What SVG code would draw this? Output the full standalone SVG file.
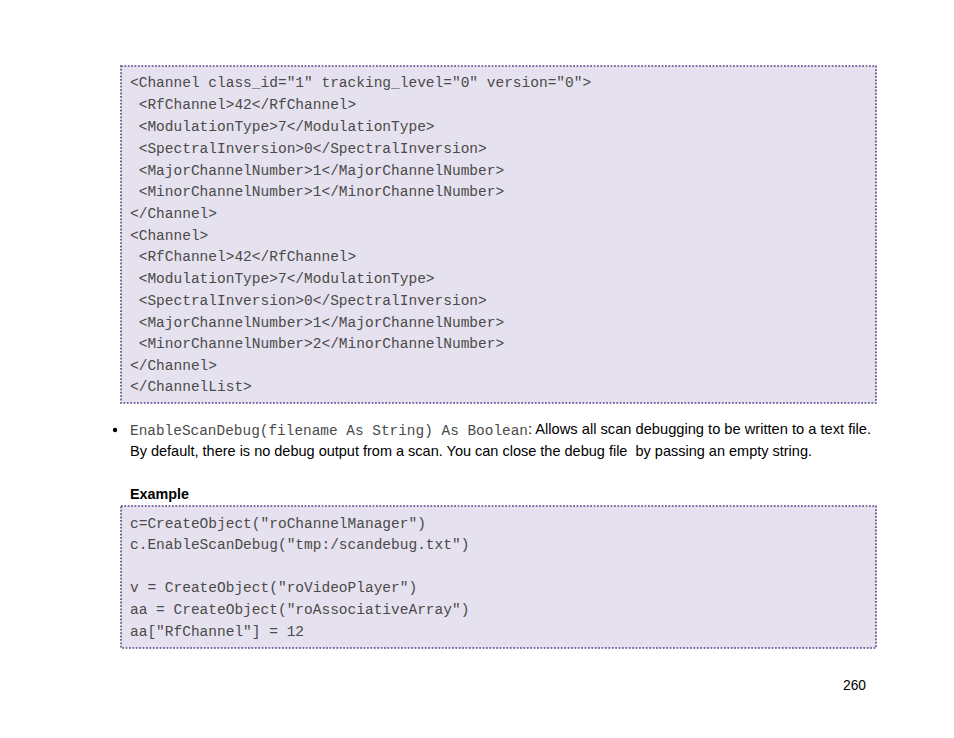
<svg xmlns="http://www.w3.org/2000/svg" width="954" height="738" viewBox="0 0 954 738">
<style>
.box{fill:#e6e1ee;stroke:#5b4187;stroke-width:1.6;stroke-dasharray:1.8 1.6}
.code{font-family:"Liberation Mono","Courier New",monospace;font-size:14.5px;fill:#4a4a4a;white-space:pre}
.body{font-family:"Liberation Sans",Arial,sans-serif;font-size:14.5px;fill:#000;white-space:pre}
.bold{font-family:"Liberation Sans",Arial,sans-serif;font-size:14.5px;font-weight:bold;fill:#000}
</style>
<rect width="954" height="738" fill="#fff"/>
<g id="code-block-1">
<rect class="box" x="121" y="66" width="755" height="337"/>
<text class="code" x="130" y="87">&lt;Channel class_id="1" tracking_level="0" version="0"&gt;</text>
<text class="code" x="130" y="109"> &lt;RfChannel&gt;42&lt;/RfChannel&gt;</text>
<text class="code" x="130" y="131"> &lt;ModulationType&gt;7&lt;/ModulationType&gt;</text>
<text class="code" x="130" y="153"> &lt;SpectralInversion&gt;0&lt;/SpectralInversion&gt;</text>
<text class="code" x="130" y="175"> &lt;MajorChannelNumber&gt;1&lt;/MajorChannelNumber&gt;</text>
<text class="code" x="130" y="196"> &lt;MinorChannelNumber&gt;1&lt;/MinorChannelNumber&gt;</text>
<text class="code" x="130" y="218">&lt;/Channel&gt;</text>
<text class="code" x="130" y="240">&lt;Channel&gt;</text>
<text class="code" x="130" y="261"> &lt;RfChannel&gt;42&lt;/RfChannel&gt;</text>
<text class="code" x="130" y="283"> &lt;ModulationType&gt;7&lt;/ModulationType&gt;</text>
<text class="code" x="130" y="305"> &lt;SpectralInversion&gt;0&lt;/SpectralInversion&gt;</text>
<text class="code" x="130" y="327"> &lt;MajorChannelNumber&gt;1&lt;/MajorChannelNumber&gt;</text>
<text class="code" x="130" y="348"> &lt;MinorChannelNumber&gt;2&lt;/MinorChannelNumber&gt;</text>
<text class="code" x="130" y="370">&lt;/Channel&gt;</text>
<text class="code" x="130" y="391">&lt;/ChannelList&gt;</text>
</g>
<g id="bullet-item">
<circle cx="115" cy="430" r="2.2" fill="#000"/>
<text class="code" x="130" y="435" textLength="398" lengthAdjust="spacingAndGlyphs">EnableScanDebug(filename As String) As Boolean</text>
<text class="body" x="528" y="434" textLength="343" lengthAdjust="spacingAndGlyphs">: Allows all scan debugging to be written to a text file.</text>
<text class="body" x="130" y="456" textLength="682" lengthAdjust="spacingAndGlyphs">By default, there is no debug output from a scan. You can close the debug file  by passing an empty string.</text>
</g>
<g id="example-label">
<text class="bold" x="130" y="499" textLength="59" lengthAdjust="spacingAndGlyphs">Example</text>
</g>
<g id="code-block-2">
<rect class="box" x="121" y="506" width="755" height="142"/>
<text class="code" x="130" y="528">c=CreateObject("roChannelManager")</text>
<text class="code" x="130" y="549">c.EnableScanDebug("tmp:/scandebug.txt")</text>
<text class="code" x="130" y="592">v = CreateObject("roVideoPlayer")</text>
<text class="code" x="130" y="614">aa = CreateObject("roAssociativeArray")</text>
<text class="code" x="130" y="636">aa["RfChannel"] = 12</text>
</g>
<g id="page-number">
<text class="body" x="843" y="690" textLength="23" lengthAdjust="spacingAndGlyphs">260</text>
</g>
</svg>
